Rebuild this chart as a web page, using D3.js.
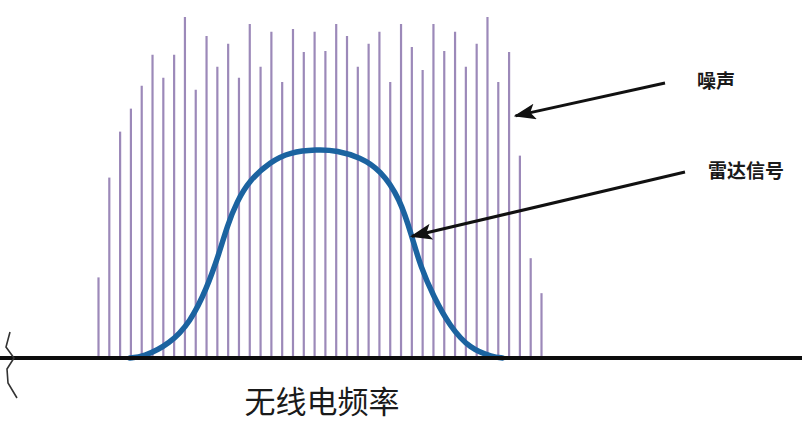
<!DOCTYPE html>
<html>
<head>
  <meta charset="utf-8">
  <title>雷达信号与噪声</title>
  <style>
    body {
      margin: 0;
      padding: 0;
      background-color: #fff;
      overflow: hidden;
    }
    text {
      font-family: "Noto Sans CJK SC", "Noto Sans", sans-serif;
      fill: #1a1a1a;
    }
  </style>
</head>
<body>
  <div id="chart"></div>

  <script src="https://d3js.org/d3.v7.min.js"></script>
  <script>
    // noise spikes, one per frequency bin (relative amplitude, 0-100)
    const noiseLevels = [
      23.5, 52.6, 66, 72.7, 79.4, 88.4, 81.7, 88.4, 99.4, 78.2,
      93.9, 84.9, 91.6, 81.7, 97.4, 84.9, 95.1, 80.5, 95.9, 89.2,
      95.1, 89.5, 97.4, 93.9, 84.9, 91.6, 95.1, 80.5, 97.4, 90.7,
      84, 97.4, 89.5, 95.1, 84.9, 91.6, 99.4, 80.5, 89.2, 59,
      29.1, 18.9
    ];

    // radar signal envelope: frequency bin position and amplitude
    const signalBins = [
      2.9, 4.1, 6.6, 8.5, 10.0, 11.2, 11.9, 12.8, 14.0, 15.9, 17.7, 20.2,
      22.1, 24.2, 26.1, 27.9, 29.0, 29.8, 31.0, 32.5, 34.4, 36.5, 37.4
    ];
    const signalLevels = [
      0, 0.3, 4.1, 10.5, 20.1, 30.8, 38.4, 45.6, 51.9, 57.2, 60, 60.8,
      60.5, 58.5, 54.8, 46.5, 35.5, 26.7, 18, 9.3, 2.6, 0.3, 0
    ];

    const labels = ['噪声', '雷达信号'];
    const xLabel = '无线电频率';

    const width = 802, height = 425;
    const baseY = 358;

    const svg = d3.select('#chart')
      .append('svg')
      .attr('width', width)
      .attr('height', height);

    const x = d3.scaleLinear()
      .domain([0, noiseLevels.length - 1])
      .range([98.5, 541.5]);

    const y = d3.scaleLinear()
      .domain([0, 100])
      .range([baseY, 15]);

    svg.append('defs').append('marker')
      .attr('id', 'head')
      .attr('viewBox', '0 0 22 16')
      .attr('refX', 20)
      .attr('refY', 8)
      .attr('markerWidth', 22)
      .attr('markerHeight', 16)
      .attr('markerUnits', 'userSpaceOnUse')
      .attr('orient', 'auto')
      .append('path')
      .attr('d', 'M22,8 L0,0 L5,8 L0,16 Z')
      .attr('fill', '#111');

    // noise spikes
    svg.append('g')
      .selectAll('line')
      .data(noiseLevels)
      .enter().append('line')
      .attr('x1', (d, i) => x(i)).attr('x2', (d, i) => x(i))
      .attr('y1', y(0)).attr('y2', d => y(d))
      .attr('stroke', '#9c89b9')
      .attr('stroke-width', 2.2);

    // signal curve
    const pts = signalBins.map((b, i) => [b, signalLevels[i]]);
    const line = d3.line()
      .x(d => x(d[0]))
      .y(d => y(d[1]))
      .curve(d3.curveBasis);

    svg.append('path')
      .datum(pts)
      .attr('d', line)
      .attr('fill', 'none')
      .attr('stroke', '#1b63a0')
      .attr('stroke-width', 5.5)
      .attr('stroke-linecap', 'round');

    // baseline
    svg.append('line')
      .attr('x1', 0).attr('x2', width)
      .attr('y1', y(0)).attr('y2', y(0))
      .attr('stroke', '#0d0d0d')
      .attr('stroke-width', 4);

    // axis break mark at left end
    svg.append('path')
      .attr('d', 'M10,332 L6,347 L14,358 L7,369 L8,383 L17,398')
      .attr('fill', 'none')
      .attr('stroke', '#333')
      .attr('stroke-width', 1.6);

    // annotations: arrow tip in data units, text anchor in px
    const notes = [
      { text: labels[0], tip: [38.6, 70.6], tail: [665, 83], tx: 697, ty: 88 },
      { text: labels[1], tip: [29.0, 35.5], tail: [685, 172], tx: 708, ty: 178 }
    ];

    notes.forEach(n => {
      svg.append('line')
        .attr('x1', n.tail[0]).attr('y1', n.tail[1])
        .attr('x2', x(n.tip[0])).attr('y2', y(n.tip[1]))
        .attr('stroke', '#111')
        .attr('stroke-width', 3)
        .attr('marker-end', 'url(#head)');
      svg.append('text')
        .attr('x', n.tx).attr('y', n.ty)
        .attr('font-size', 19)
        .attr('font-weight', 'bold')
        .text(n.text);
    });

    svg.append('text')
      .attr('x', 322).attr('y', 413)
      .attr('text-anchor', 'middle')
      .attr('font-size', 31)
      .text(xLabel);
  </script>
</body>
</html>
